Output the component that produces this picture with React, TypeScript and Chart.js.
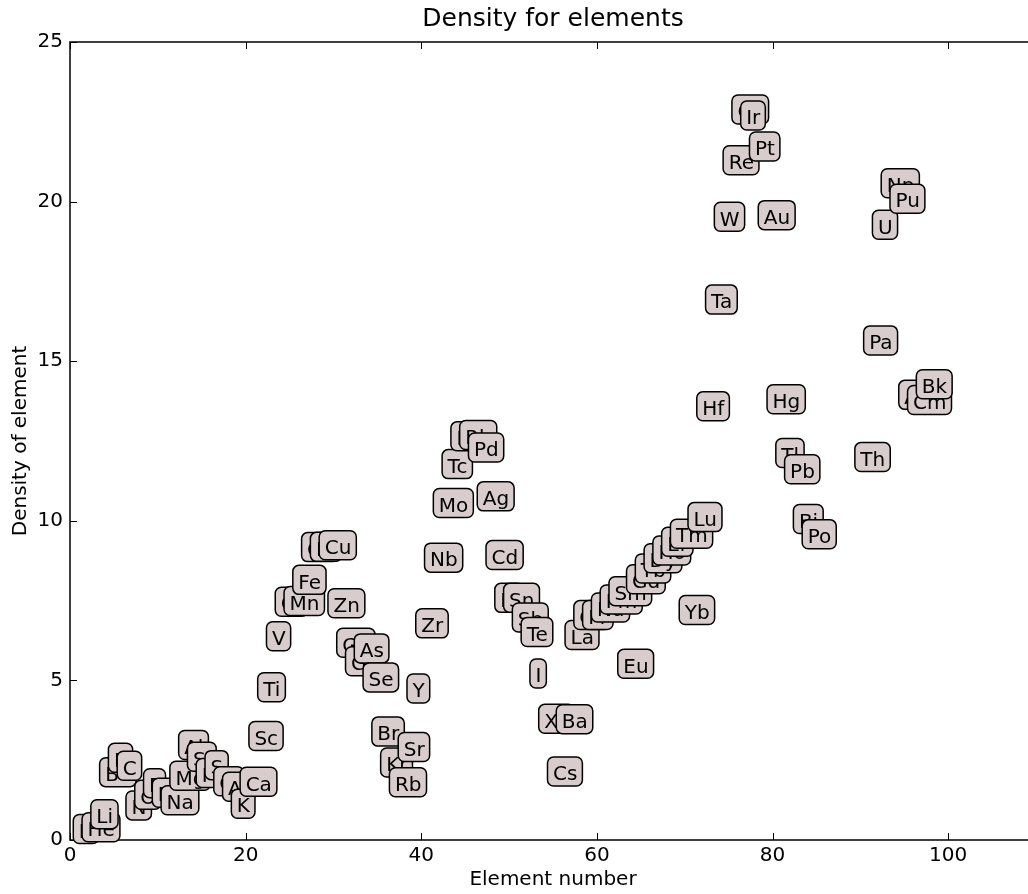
import React, { useEffect, useRef } from "react";
import { Chart, registerables } from "chart.js";

Chart.register(...registerables);

const elementNumbers: number[] = [
  1, 2, 3, 4, 5, 6, 7, 8, 9, 10,
  11, 12, 13, 14, 15, 16, 17, 18, 19, 20,
  21, 22, 23, 24, 25, 26, 27, 28, 29, 30,
  31, 32, 33, 34, 35, 36, 37, 38, 39, 40,
  41, 42, 43, 44, 45, 46, 47, 48, 49, 50,
  51, 52, 53, 54, 55, 56, 57, 58, 59, 60,
  61, 62, 63, 64, 65, 66, 67, 68, 69, 70,
  71, 72, 73, 74, 75, 76, 77, 78, 79, 80,
  81, 82, 83, 84, 90, 91, 92, 93, 94, 95,
  96, 97,
];

const elementSymbols: string[] = [
  "H", "He", "Li", "Be", "B", "C", "N", "O", "F", "Ne",
  "Na", "Mg", "Al", "Si", "P", "S", "Cl", "Ar", "K", "Ca",
  "Sc", "Ti", "V", "Cr", "Mn", "Fe", "Co", "Ni", "Cu", "Zn",
  "Ga", "Ge", "As", "Se", "Br", "Kr", "Rb", "Sr", "Y", "Zr",
  "Nb", "Mo", "Tc", "Ru", "Rh", "Pd", "Ag", "Cd", "In", "Sn",
  "Sb", "Te", "I", "Xe", "Cs", "Ba", "La", "Ce", "Pr", "Nd",
  "Pm", "Sm", "Eu", "Gd", "Tb", "Dy", "Ho", "Er", "Tm", "Yb",
  "Lu", "Hf", "Ta", "W", "Re", "Os", "Ir", "Pt", "Au", "Hg",
  "Tl", "Pb", "Bi", "Po", "Th", "Pa", "U", "Np", "Pu", "Am",
  "Cm", "Bk",
];

const elementDensities: number[] = [
  0.07, 0.125, 0.534, 1.85, 2.3, 2.05, 0.808, 1.141, 1.505, 1.207,
  0.968, 1.738, 2.7, 2.33, 1.823, 2.07, 1.5625, 1.395, 0.862, 1.55,
  2.985, 4.507, 6.11, 7.19, 7.21, 7.874, 8.9, 8.908, 8.96, 7.14,
  5.904, 5.323, 5.727, 4.819, 3.12, 2.15, 1.532, 2.64, 4.472, 6.511,
  8.57, 10.28, 11.5, 12.37, 12.41, 12.02, 10.49, 8.65, 7.31, 7.31,
  6.697, 6.24, 4.94, 3.52, 1.873, 3.51, 6.145, 6.77, 6.773, 7.007,
  7.26, 7.52, 5.243, 7.895, 8.229, 8.55, 8.795, 9.066, 9.321, 6.93,
  9.84, 13.31, 16.654, 19.25, 21.02, 22.61, 22.42, 21.45, 19.3, 13.534,
  11.85, 11.34, 9.78, 9.3, 11.72, 15.37, 19.0, 20.3, 19.816, 13.67,
  13.51, 14.0,
];

const titleText = "Density for elements";
const xAxisLabel = "Element number";
const yAxisLabel = "Density of element";
const xMin = 0;
const xMax = 110;
const xStep = 20;
const yMin = 0;
const yMax = 25;
const yStep = 5;

const FONT = "'DejaVu Sans', 'Liberation Sans', sans-serif";
const BOX_FILL = "#d9cccc";

const framePlugin = {
  id: "mplFrame",
  beforeDatasetsDraw(chart: any) {
    const { ctx, chartArea, scales } = chart;
    const { left, right, top, bottom } = chartArea;
    ctx.save();
    ctx.strokeStyle = "#000";
    ctx.lineWidth = 1.5;
    ctx.beginPath();
    ctx.rect(left, top, right - left, bottom - top);
    ctx.stroke();
    ctx.lineWidth = 1;
    const tl = 7;
    ctx.beginPath();
    for (const t of scales.x.ticks) {
      const px = Math.round(scales.x.getPixelForValue(t.value)) + 0.5;
      ctx.moveTo(px, bottom);
      ctx.lineTo(px, bottom - tl);
      ctx.moveTo(px, top);
      ctx.lineTo(px, top + tl);
    }
    for (const t of scales.y.ticks) {
      const py = Math.round(scales.y.getPixelForValue(t.value)) + 0.5;
      ctx.moveTo(left, py);
      ctx.lineTo(left + tl, py);
      ctx.moveTo(right, py);
      ctx.lineTo(right - tl, py);
    }
    ctx.stroke();
    ctx.restore();
  },
};

const labelPlugin = {
  id: "elementLabels",
  afterDatasetsDraw(chart: any) {
    const { ctx, scales } = chart;
    ctx.save();
    ctx.font = `20px ${FONT}`;
    ctx.textBaseline = "alphabetic";
    ctx.textAlign = "left";
    for (let i = 0; i < elementNumbers.length; i++) {
      const x = scales.x.getPixelForValue(elementNumbers[i]);
      const y = scales.y.getPixelForValue(elementDensities[i]);
      const w = ctx.measureText(elementSymbols[i]).width;
      const bx = x - 5.5;
      const by = y - 23.3;
      const bw = w + 10.5;
      const bh = 29;
      ctx.beginPath();
      ctx.roundRect(bx, by, bw, bh, 6);
      ctx.fillStyle = BOX_FILL;
      ctx.fill();
      ctx.lineWidth = 1.5;
      ctx.strokeStyle = "#000";
      ctx.stroke();
      ctx.fillStyle = "#000";
      ctx.fillText(elementSymbols[i], x, y);
    }
    ctx.restore();
  },
};

export default function App() {
  const canvasRef = useRef<HTMLCanvasElement | null>(null);

  useEffect(() => {
    document.body.style.margin = "0";
    const canvas = canvasRef.current;
    if (!canvas) return;
    const points = elementNumbers.map((n, i) => ({ x: n, y: elementDensities[i] }));
    const tickFont = { family: FONT, size: 20, weight: "normal" as const };
    const chart = new Chart(canvas, {
      type: "scatter",
      data: {
        datasets: [
          {
            label: "density",
            data: points,
            pointRadius: 0,
            pointHoverRadius: 0,
            showLine: false,
          },
        ],
      },
      options: {
        animation: false,
        responsive: false,
        devicePixelRatio: 1,
        layout: { padding: { left: 0, right: 4, top: 0, bottom: 0 } },
        plugins: {
          legend: { display: false },
          tooltip: { enabled: false },
          title: {
            display: true,
            fullSize: false,
            text: titleText,
            color: "#000",
            font: { family: FONT, size: 25, weight: "normal" },
            padding: { top: 4, bottom: 8 },
          },
        },
        scales: {
          x: {
            type: "linear",
            min: xMin,
            max: xMax,
            grid: { display: false, drawTicks: false },
            border: { display: false },
            ticks: {
              stepSize: xStep,
              includeBounds: false,
              color: "#000",
              font: tickFont,
              padding: 4,
              maxRotation: 0,
            },
            title: {
              display: true,
              text: xAxisLabel,
              color: "#000",
              font: { family: FONT, size: 20, weight: "normal" },
              padding: { top: 0, bottom: 2 },
            },
            afterFit: (s: any) => {
              s.height = 54;
            },
          },
          y: {
            type: "linear",
            min: yMin,
            max: yMax,
            grid: { display: false, drawTicks: false },
            border: { display: false },
            ticks: {
              stepSize: yStep,
              includeBounds: false,
              color: "#000",
              font: tickFont,
              padding: 7,
            },
            title: {
              display: true,
              text: yAxisLabel,
              color: "#000",
              font: { family: FONT, size: 20, weight: "normal" },
              padding: { top: 9, bottom: 0 },
            },
            afterFit: (s: any) => {
              s.width = 70;
            },
          },
        },
      },
      plugins: [framePlugin, labelPlugin],
    });
    return () => {
      chart.destroy();
    };
  }, []);

  return (
    <div style={{ width: 1028, height: 894, overflow: "hidden" }}>
      <canvas ref={canvasRef} width={1040} height={894} style={{ display: "block" }} />
    </div>
  );
}
